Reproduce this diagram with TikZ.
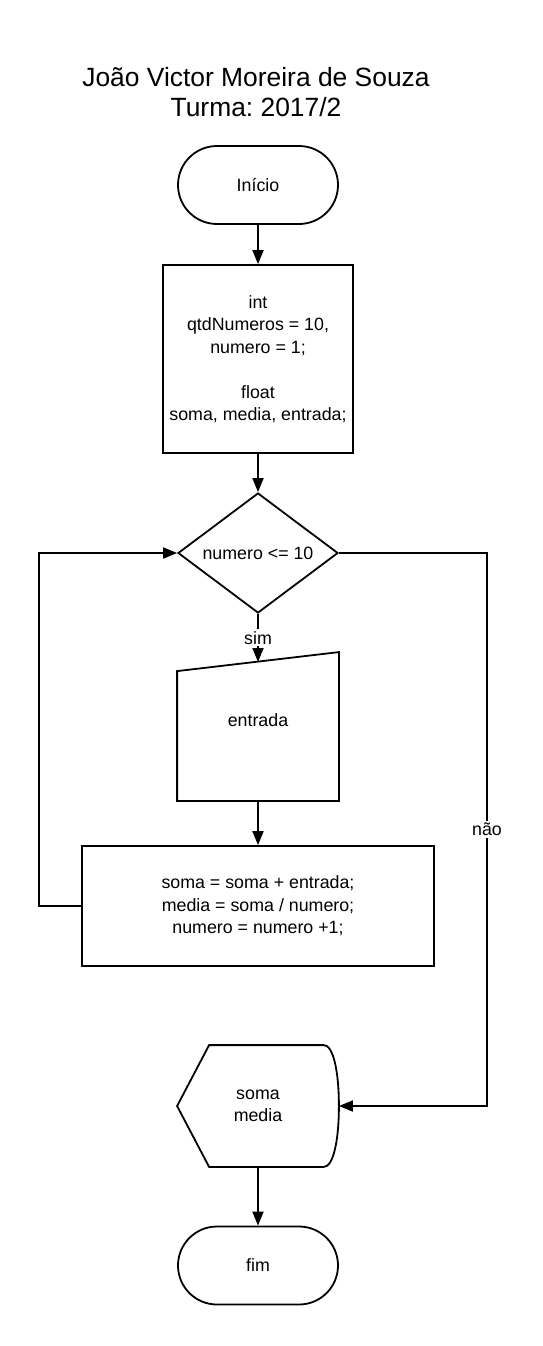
\documentclass[tikz,border=0pt]{standalone}
\usepackage{fontspec}
\setmainfont{Liberation Sans}
\usetikzlibrary{shapes.geometric, arrows.meta, calc}
\frenchspacing

\tikzset{
  terminal/.style={draw, rectangle, rounded corners=39pt, minimum width=160pt, minimum height=78pt},
  processo/.style={draw, rectangle, align=center},
  decisao/.style={draw, diamond, aspect=1.333, inner sep=0pt, minimum width=160pt, minimum height=120pt},
  seta/.style={-{Triangle[length=14pt, width=11pt]}},
  rotulo/.style={fill=white, inner sep=2pt},
}

\begin{document}
\begin{tikzpicture}[x=1pt, y=-1pt, line width=1.8pt, font=\fontsize{17.8}{22.5}\selectfont]
\useasboundingbox (0,0) rectangle (542,1346);

\node[font=\fontsize{26.4}{30}\selectfont, align=center] (titulo) at (256,92) {João Victor Moreira de Souza\\Turma: 2017/2};

\node[terminal] (inicio) at (258,185) {Início};
\node[processo, minimum width=190pt, minimum height=188pt] (decl) at (258,359) {int\\qtdNumeros = 10,\\numero = 1;\\[22.5pt]float\\soma, media, entrada;};
\node[decisao] (teste) at (258,553) {numero <= 10};

% entrada manual
\node[minimum width=160pt, minimum height=147pt, text depth=12pt] (entrada) at (258,726.5) {entrada};
\draw (entrada.south west) -- ($(entrada.north west)+(0,19)$) -- (entrada.north east) -- (entrada.south east) -- cycle;
\coordinate (entradatopo) at (258,662);

\node[processo, minimum width=352pt, minimum height=120pt] (soma) at (258,906) {soma = soma + entrada;\\media = soma / numero;\\numero = numero +1;};

% exibir
\node[minimum width=160pt, minimum height=120pt, align=center] (saida) at (258,1106) {soma\\media};
\draw (saida.west) -- ($(saida.north west)+(32,0)$) -- ($(saida.north east)+(-15,0)$)
  .. controls ($(saida.north east)+(-6,0)$) and ($(saida.east)+(0,-36)$) .. (saida.east)
  .. controls ($(saida.east)+(0,36)$) and ($(saida.south east)+(-6,0)$) .. ($(saida.south east)+(-15,0)$)
  -- ($(saida.south west)+(32,0)$) -- cycle;

\node[terminal] (fim) at (258,1265.5) {fim};

\coordinate (canto) at (487,1106);

\draw[seta] (inicio) -- (decl);
\draw[seta] (decl) -- (teste);
\draw[seta] (teste.south) -- node[rotulo] {sim} (entradatopo);
\draw[seta] (entrada) -- (soma);
\draw[seta] (soma.west) -- ++(-42,0) |- (teste.west);
\draw[seta] (teste.east) -| node[rotulo, pos=0.75] {não} (canto) -- (saida.east);
\draw[seta] (saida) -- (fim);
\end{tikzpicture}
\end{document}
